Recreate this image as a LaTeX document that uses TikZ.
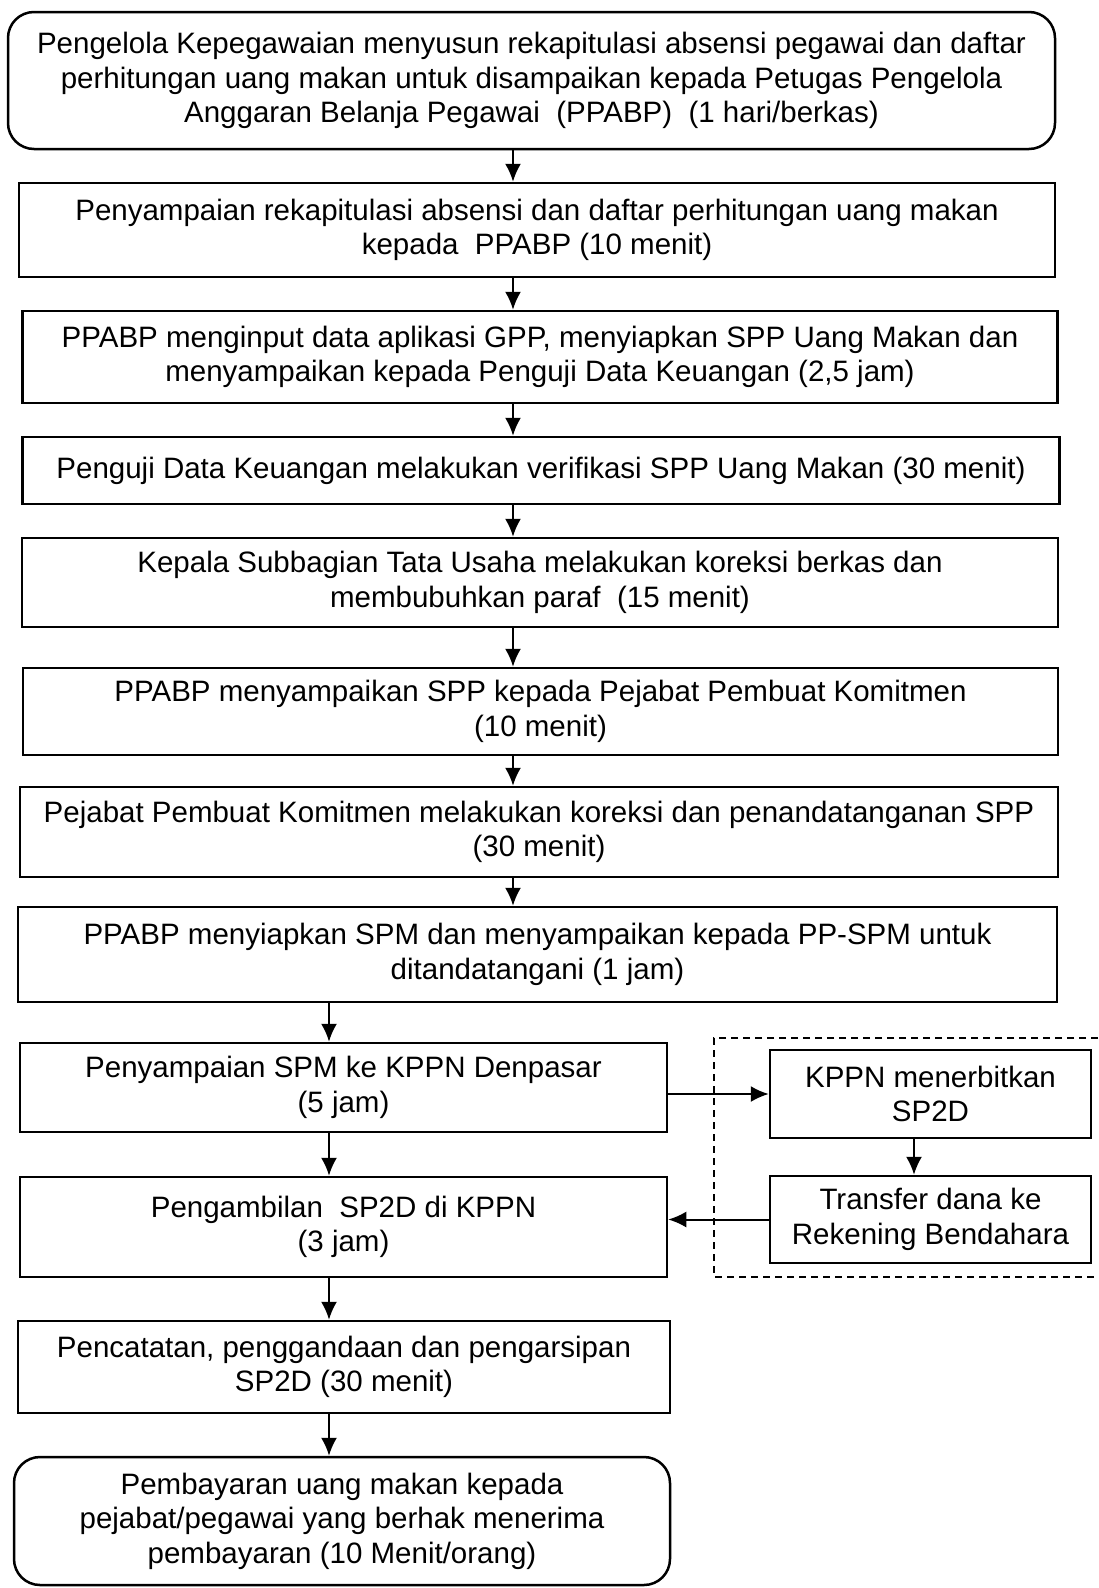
\documentclass[tikz,border=0pt]{standalone}
\usepackage{fontspec}
\setmainfont{Liberation Sans}
\usetikzlibrary{arrows.meta}
\tikzset{
  stepbox/.style={draw, line width=2.5pt, inner sep=0pt, align=center,
    font=\fontsize{29.5}{34.5}\selectfont},
  endbox/.style={stepbox, rounded corners=26pt},
  flow/.style={line width=2pt, -{Latex[length=18pt,width=16pt]}}
}
\begin{document}
\begin{tikzpicture}[x=1pt, y=-1pt]
  \useasboundingbox (0,0) rectangle (1098,1588);
  \coordinate (mid) at (513,0);
  \coordinate (lft) at (329,0);
  \coordinate (rgt) at (914,0);
  \node[endbox, minimum width=1047pt, minimum height=137pt] (b1) at (531.5,80.5)
    {Pengelola Kepegawaian menyusun rekapitulasi absensi pegawai dan daftar\\
     perhitungan uang makan untuk disampaikan kepada Petugas Pengelola\\
     Anggaran Belanja Pegawai~~(PPABP)~~(1 hari/berkas)};
  \node[stepbox, minimum width=1036pt, minimum height=94pt] (b2) at (537,230)
    {Penyampaian rekapitulasi absensi dan daftar perhitungan uang makan\\
     kepada~~PPABP (10 menit)};
  \node[stepbox, minimum width=1035pt, minimum height=92pt] (b3) at (540,357)
    {PPABP menginput data aplikasi GPP, menyiapkan SPP Uang Makan dan\\
     menyampaikan kepada Penguji Data Keuangan (2,5 jam)};
  \node[stepbox, minimum width=1037pt, minimum height=67pt] (b4) at (541,470.5)
    {Penguji Data Keuangan melakukan verifikasi SPP Uang Makan (30 menit)};
  \node[stepbox, minimum width=1036pt, minimum height=89pt] (b5) at (540,582.5)
    {Kepala Subbagian Tata Usaha melakukan koreksi berkas dan\\
     membubuhkan paraf~~(15 menit)};
  \node[stepbox, minimum width=1035pt, minimum height=87pt] (b6) at (540.5,711.5)
    {PPABP menyampaikan SPP kepada Pejabat Pembuat Komitmen\\
     (10 menit)};
  \node[stepbox, minimum width=1038pt, minimum height=90pt] (b7) at (539,832)
    {Pejabat Pembuat Komitmen melakukan koreksi dan penandatanganan SPP\\
     (30 menit)};
  \node[stepbox, minimum width=1039pt, minimum height=95pt] (b8) at (537.5,954.5)
    {PPABP menyiapkan SPM dan menyampaikan kepada PP-SPM untuk\\
     ditandatangani (1 jam)};
  \node[stepbox, minimum width=647pt, minimum height=89pt] (b9) at (343.5,1087.5)
    {Penyampaian SPM ke KPPN Denpasar\\
     (5 jam)};
  \node[stepbox, minimum width=647pt, minimum height=100pt] (b10) at (343.5,1227)
    {Pengambilan~~SP2D di KPPN\\
     (3 jam)};
  \node[stepbox, minimum width=652pt, minimum height=92pt] (b11) at (344,1367)
    {Pencatatan, penggandaan dan pengarsipan\\
     SP2D (30 menit)};
  \node[endbox, minimum width=656pt, minimum height=128pt] (b12) at (342,1521)
    {Pembayaran uang makan kepada\\
     pejabat/pegawai yang berhak menerima\\
     pembayaran (10 Menit/orang)};
  \node[stepbox, minimum width=321pt, minimum height=88pt] (kppn) at (930.5,1094)
    {KPPN menerbitkan\\
     SP2D};
  \node[stepbox, minimum width=321pt, minimum height=87pt] (transfer) at (930.5,1219.5)
    {Transfer dana ke\\
     Rekening Bendahara};
  \draw[line width=1.5pt, dash pattern=on 7pt off 5pt]
    (1098,1038) -- (714,1038) -- (714,1277) -- (1098,1277);
  \begin{scope}[flow]
    \draw (b1.south -| mid) to (b2.north -| mid);
    \draw (b2.south -| mid) to (b3.north -| mid);
    \draw (b3.south -| mid) to (b4.north -| mid);
    \draw (b4.south -| mid) to (b5.north -| mid);
    \draw (b5.south -| mid) to (b6.north -| mid);
    \draw (b6.south -| mid) to (b7.north -| mid);
    \draw (b7.south -| mid) to (b8.north -| mid);
    \draw (b8.south -| lft) to (b9.north -| lft);
    \draw (b9.south -| lft) to (b10.north -| lft);
    \draw (b10.south -| lft) to (b11.north -| lft);
    \draw (b11.south -| lft) to (b12.north -| lft);
    \draw (b9.east |- kppn.west) to (kppn.west);
    \draw (kppn.south -| rgt) to (transfer.north -| rgt);
    \draw (transfer.west) to (b10.east |- transfer.west);
  \end{scope}
\end{tikzpicture}
\end{document}
